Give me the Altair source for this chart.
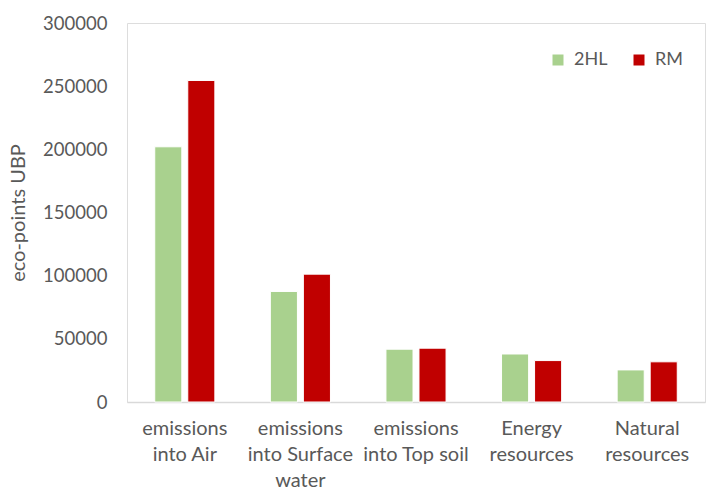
import altair as alt
import pandas as pd

categories = [
    "emissions\ninto Air",
    "emissions\ninto Surface\nwater",
    "emissions\ninto Top soil",
    "Energy\nresources",
    "Natural\nresources",
]
series = ["2HL", "RM"]
values_2hl = [202000, 87500, 41800, 38000, 25400]
values_rm = [254500, 101200, 42600, 32800, 31800]
colors = ["#a9d18e", "#c00000"]

rows = []
for c, a, b in zip(categories, values_2hl, values_rm):
    rows.append({"category": c, "series": "2HL", "value": a})
    rows.append({"category": c, "series": "RM", "value": b})
df = pd.DataFrame(rows)

FONT = "Lato"
GRAY = "#595959"

chart = alt.Chart(df).mark_bar(stroke="white", strokeWidth=1).encode(
    x=alt.X(
        "category:N",
        sort=categories,
        scale=alt.Scale(paddingInner=0.48, paddingOuter=0.24),
        axis=alt.Axis(
            title=None,
            labelAngle=0,
            labelExpr="split(datum.label, '\\n')",
            labelBaseline="top",
            labelLineHeight=26,
            labelPadding=16,
            labelFontSize=20,
            labelColor=GRAY,
            labelFont=FONT,
            ticks=False,
            domainColor="#d9d9d9",
            domainWidth=1.5,
            labelLimit=200,
        ),
    ),
    xOffset=alt.XOffset("series:N", sort=series, scale=alt.Scale(paddingInner=0.18)),
    y=alt.Y(
        "value:Q",
        scale=alt.Scale(domain=[0, 300000], nice=False),
        axis=alt.Axis(
            title="eco-points UBP",
            titleFontSize=20,
            titleFont=FONT,
            titleFontWeight="normal",
            titleColor=GRAY,
            titlePadding=14,
            values=[0, 50000, 100000, 150000, 200000, 250000, 300000],
            format="d",
            labelFontSize=18.5,
            labelFont=FONT,
            labelColor=GRAY,
            labelPadding=20,
            ticks=False,
            domain=False,
            grid=False,
        ),
    ),
    color=alt.Color(
        "series:N",
        sort=series,
        scale=alt.Scale(domain=series, range=colors),
        legend=alt.Legend(
            title=None,
            orient="none",
            direction="horizontal",
            legendX=422,
            legendY=28,
            symbolType="square",
            symbolSize=121,
            symbolStrokeWidth=0,
            labelFontSize=18,
            labelFont=FONT,
            labelColor=GRAY,
            labelOffset=7,
            columnPadding=22,
            padding=0,
        ),
    ),
).properties(
    width=578,
    height=379,
    autosize=alt.AutoSizeParams(type="none"),
    padding={"left": 127, "top": 23, "right": 2, "bottom": 87},
).configure_view(stroke=None).configure(background="white")

chart.save("out.html", embed_options={"renderer": "svg", "actions": False})
